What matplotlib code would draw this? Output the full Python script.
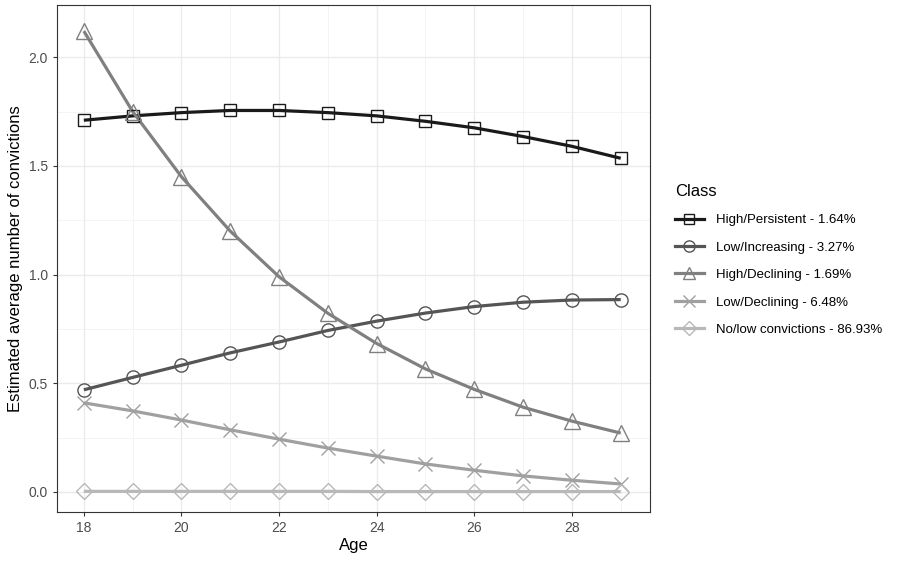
import matplotlib
matplotlib.use("Agg")
import matplotlib.pyplot as plt
from matplotlib.ticker import MultipleLocator

plt.rcParams['font.family'] = ['Liberation Sans', 'DejaVu Sans']

age = [18, 19, 20, 21, 22, 23, 24, 25, 26, 27, 28, 29]

high_persistent = [1.71, 1.73, 1.745, 1.755, 1.755, 1.745, 1.73, 1.705, 1.675, 1.635, 1.59, 1.535]
low_increasing = [0.47, 0.527, 0.583, 0.64, 0.69, 0.743, 0.786, 0.823, 0.853, 0.873, 0.883, 0.885]
high_declining = [2.12, 1.75, 1.45, 1.2, 0.99, 0.822, 0.683, 0.566, 0.472, 0.39, 0.326, 0.271]
low_declining = [0.41, 0.373, 0.331, 0.286, 0.243, 0.202, 0.165, 0.129, 0.1, 0.074, 0.054, 0.037]
no_low = [0.003, 0.003, 0.003, 0.003, 0.003, 0.003, 0.002, 0.002, 0.002, 0.002, 0.002, 0.002]

labels = ["High/Persistent - 1.64%", "Low/Increasing - 3.27%", "High/Declining - 1.69%",
          "Low/Declining - 6.48%", "No/low convictions - 86.93%"]
series = [high_persistent, low_increasing, high_declining, low_declining, no_low]
colors = ["#1a1a1a", "#555555", "#808080", "#a0a0a0", "#b8b8b8"]
markers = ["s", "o", "^", "x", "D"]
msizes = [9, 9.5, 11, 10, 8.5]

fig = plt.figure(figsize=(9.04, 5.64), dpi=100)
ax = fig.add_axes([57/904, 1-512/564, (650-57)/904, (512-5)/564])

handles = []
for y, c in zip(series, colors):
    ax.plot(age, y, color=c, lw=2.3, zorder=3, solid_capstyle='butt')
for y, c, m, ms, lab in zip(series, colors, markers, msizes, labels):
    ax.plot(age, y, ls='none', marker=m, ms=ms, mfc='none', mec=c, mew=1.0, zorder=4)
    h, = ax.plot([], [], color=c, lw=2.3, marker=m, ms=ms * 0.85, mfc='none', mec=c, mew=1.0, label=lab)
    handles.append(h)

ax.set_xlim(17.45, 29.6)
ax.set_ylim(-0.092, 2.24)
ax.xaxis.set_major_locator(MultipleLocator(2))
ax.xaxis.set_minor_locator(MultipleLocator(1))
ax.yaxis.set_major_locator(MultipleLocator(0.5))
ax.yaxis.set_minor_locator(MultipleLocator(0.25))
ax.yaxis.set_major_formatter(plt.FuncFormatter(lambda v, p: f"{v:.1f}"))
ax.grid(which='major', color='#ebebeb', lw=1.0, zorder=0)
ax.grid(which='minor', color='#f2f2f2', lw=0.6, zorder=0)
ax.set_axisbelow(True)
for s in ax.spines.values():
    s.set_color('#333333')
    s.set_linewidth(0.8)
ax.tick_params(which='major', length=3, color='#333333', labelsize=10, labelcolor='#4d4d4d')
ax.tick_params(which='minor', length=0)
ax.set_xlabel("Age", fontsize=12, labelpad=2)
ax.set_ylabel("Estimated average number of convictions", fontsize=12, labelpad=4)

leg = fig.legend(handles=handles, title="Class", loc='upper left', bbox_to_anchor=(663/904, 1-172/564),
                 frameon=False, fontsize=9.5, title_fontsize=12, handlelength=2.2,
                 labelspacing=1.15, handletextpad=0.9, alignment='left')

plt.savefig("out.png", dpi=100)
